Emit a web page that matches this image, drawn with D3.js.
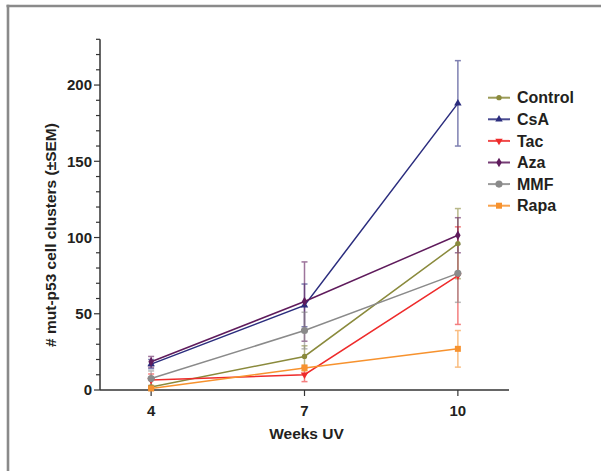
<!DOCTYPE html>
<html>
<head>
<meta charset="utf-8">
<script src="https://cdn.jsdelivr.net/npm/d3@7"></script>
<style>
  body { margin: 0; background: #fff; }
  text { font-family: "Liberation Sans", Arial, sans-serif; font-weight: bold; fill: #231f20; }
</style>
</head>
<body>
<div id="chart"></div>
<script>
// data
const weeks = [4, 7, 10];
const seriesNames = ['Control', 'CsA', 'Tac', 'Aza', 'MMF', 'Rapa'];
const control    = [2, 22, 96];
const controlSem = [1, 7, 23];
const csa        = [17, 55.5, 188];
const csaSem     = [3, 14, 28];
const tac        = [6.5, 10, 75];
const tacSem     = [4, 4.5, 32];
const aza        = [18.5, 58, 101.5];
const azaSem     = [3.5, 26, 11.5];
const mmf        = [7.5, 39, 76.5];
const mmfSem     = [5, 12, 19];
const rapa       = [1, 14.5, 27];
const rapaSem    = [0.5, 2, 12];
const yTicks = [0, 50, 100, 150, 200];

const colors = ['#8a8a3c', '#2b2d7e', '#ee2b2b', '#5f1b5c', '#8a8a8a', '#f7922e'];
const shapes = ['circle', 'triangle', 'tridown', 'diamond', 'bigcircle', 'square'];
const values = [control, csa, tac, aza, mmf, rapa];
const sems = [controlSem, csaSem, tacSem, azaSem, mmfSem, rapaSem];

const series = seriesNames.map((name, i) => ({
  name: name, color: colors[i], shape: shapes[i],
  points: weeks.map((w, j) => ({x: w, y: values[i][j], sem: sems[i][j]}))
}));

const W = 601, H = 471;
const svg = d3.select('#chart').append('svg')
  .attr('width', W).attr('height', H);

// frame (top + left only)
svg.append('line').attr('x1', 6.5).attr('x2', W).attr('y1', 6).attr('y2', 6)
  .attr('stroke', '#8a8a8a').attr('stroke-width', 2.6);
svg.append('line').attr('x1', 8).attr('x2', 8).attr('y1', 4.7).attr('y2', H)
  .attr('stroke', '#8a8a8a').attr('stroke-width', 2.6);

var x = d3.scaleLinear().domain([3, 11]).range([100, 509]);
var y = d3.scaleLinear().domain([0, 230]).range([390, 39.3]);

// y axis
var yAxis = svg.append('g').attr('transform', 'translate(' + x(3) + ',0)');
yAxis.append('line').attr('y1', y(0)).attr('y2', y(230))
  .attr('stroke', '#333').attr('stroke-width', 1.5);
yAxis.selectAll('line.minor')
  .data(d3.range(0, 231, 10))
  .enter().append('line')
  .attr('x1', d => d % 50 === 0 ? -6 : -4).attr('x2', 0)
  .attr('y1', d => y(d)).attr('y2', d => y(d))
  .attr('stroke', '#333').attr('stroke-width', 1.2);
yAxis.selectAll('text')
  .data(yTicks)
  .enter().append('text')
  .attr('x', -8).attr('y', d => y(d)).attr('dy', '0.36em')
  .attr('text-anchor', 'end').style('font-size', '15px')
  .text(d => d);

// x axis
var xAxis = svg.append('g').attr('transform', 'translate(0,' + y(0) + ')');
xAxis.append('line').attr('x1', x(3)).attr('x2', x(11))
  .attr('stroke', '#333').attr('stroke-width', 1.5);
xAxis.selectAll('line.tick')
  .data(weeks).enter().append('line')
  .attr('x1', d => x(d)).attr('x2', d => x(d))
  .attr('y1', 0).attr('y2', 6)
  .attr('stroke', '#333').attr('stroke-width', 1.2);
xAxis.selectAll('text')
  .data(weeks).enter().append('text')
  .attr('x', d => x(d)).attr('y', 26)
  .attr('text-anchor', 'middle').style('font-size', '15px')
  .text(d => d);

svg.append('text')
  .attr('x', (x(3) + x(11)) / 2 + 2).attr('y', 439)
  .attr('text-anchor', 'middle').style('font-size', '15.5px')
  .text('Weeks UV');

svg.append('text')
  .attr('transform', 'translate(56,235) rotate(-90)')
  .attr('text-anchor', 'middle').style('font-size', '15.5px')
  .text('# mut-p53 cell clusters (\u00b1SEM)');

function symbolPath(shape) {
  var s = d3.symbol();
  if (shape === 'circle') return s.type(d3.symbolCircle).size(22)();
  if (shape === 'bigcircle') return s.type(d3.symbolCircle).size(40)();
  if (shape === 'triangle' || shape === 'tridown') return s.type(d3.symbolTriangle).size(24)();
  if (shape === 'diamond') return s.type(d3.symbolDiamond).size(26)();
  return s.type(d3.symbolSquare).size(36)();
}

var line = d3.line().x(d => x(d.x)).y(d => y(d.y));
var plot = svg.append('g');

// error bars
series.forEach(function(s) {
  var g = plot.append('g').attr('opacity', 0.6);
  s.points.forEach(function(p) {
    var top = y(p.y + p.sem), bot = y(Math.max(0, p.y - p.sem));
    g.append('line').attr('x1', x(p.x)).attr('x2', x(p.x)).attr('y1', top).attr('y2', bot)
      .attr('stroke', s.color).attr('stroke-width', 1.5);
    [top, bot].forEach(function(yy) {
      g.append('line').attr('x1', x(p.x) - 3).attr('x2', x(p.x) + 3).attr('y1', yy).attr('y2', yy)
        .attr('stroke', s.color).attr('stroke-width', 1.5);
    });
  });
});

// lines + markers
series.forEach(function(s) {
  plot.append('path').datum(s.points)
    .attr('d', line).attr('fill', 'none')
    .attr('stroke', s.color).attr('stroke-width', 1.5);
  plot.selectAll(null).data(s.points).enter().append('path')
    .attr('d', symbolPath(s.shape))
    .attr('transform', d => 'translate(' + x(d.x) + ',' + y(d.y) + ')' + (s.shape === 'tridown' ? ' rotate(180)' : ''))
    .attr('fill', s.color);
});

// legend
var legend = svg.append('g');
series.forEach(function(s, i) {
  var ly = 97.7 + i * 21.6;
  legend.append('line').attr('x1', 488).attr('x2', 510).attr('y1', ly).attr('y2', ly)
    .attr('stroke', s.color).attr('stroke-width', 2).attr('opacity', 0.85);
  legend.append('path').attr('d', symbolPath(s.shape))
    .attr('transform', 'translate(499,' + ly + ')' + (s.shape === 'tridown' ? ' rotate(180)' : ''))
    .attr('fill', s.color);
  legend.append('text').attr('x', 517).attr('y', ly).attr('dy', '0.36em')
    .style('font-size', '16px').text(s.name);
});
</script>
</body>
</html>
